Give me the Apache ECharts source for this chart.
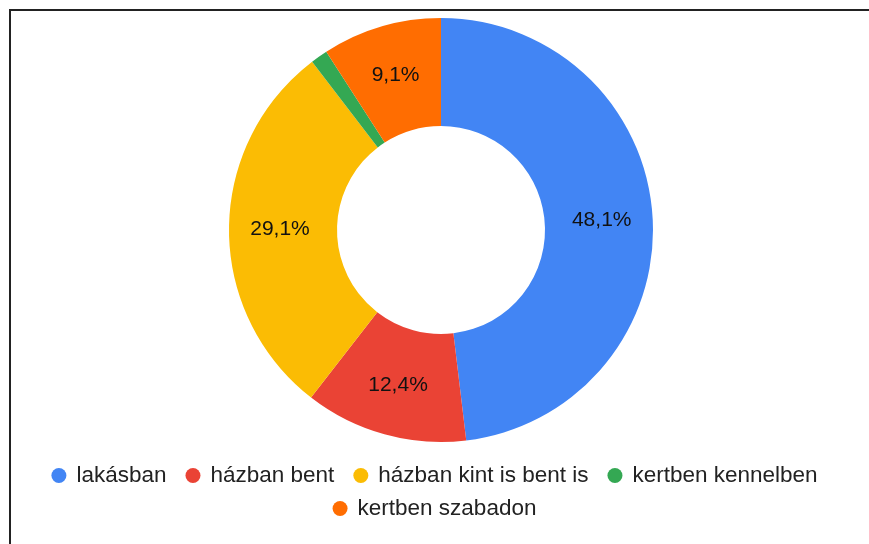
<!DOCTYPE html>
<html>
<head>
<meta charset="utf-8">
<script src="https://cdn.jsdelivr.net/npm/echarts@6/dist/echarts.min.js"></script>
<style>
  html, body { margin: 0; padding: 0; background: #fff; }
  #chart { position: absolute; left: 0; top: 0; width: 869px; height: 544px; }
  /* frame line at top and left, as in the screenshot */
  #frame {
    position: absolute; left: 9px; top: 9px; width: 870px; height: 545px;
    border-left: 2px solid #222; border-top: 2px solid #222; pointer-events: none;
  }
</style>
</head>
<body>
<div id="chart"></div>
<div id="frame"></div>
<script>
// data
const categories = ['lakásban', 'házban bent', 'házban kint is bent is', 'kertben kennelben', 'kertben szabadon']
const shares = [48.1, 12.4, 29.1, 1.3, 9.1]
const colors = ['#4285F4', '#EA4335', '#FBBC04', '#34A853', '#FF6D01']

const chart = echarts.init(document.getElementById('chart'))

const legendText = {
  fontFamily: 'Liberation Sans, Arial, sans-serif',
  fontSize: 22.5,
  color: '#222',
  padding: [0, 0, 0, 5]
}

const option = {
  animation: false,
  color: colors,
  legend: [
    {
      data: categories.slice(0, 4),
      left: 'center',
      top: 459,
      icon: 'circle',
      itemWidth: 15,
      itemHeight: 15,
      itemGap: 19,
      textStyle: legendText
    },
    {
      data: categories.slice(4),
      left: 'center',
      top: 492,
      icon: 'circle',
      itemWidth: 15,
      itemHeight: 15,
      textStyle: legendText
    }
  ],
  series: [
    {
      type: 'pie',
      center: [441, 230],
      radius: [104, 212],
      startAngle: 90,
      clockwise: true,
      avoidLabelOverlap: false,
      label: {
        show: true,
        position: 'inside',
        fontFamily: 'Liberation Sans, Arial, sans-serif',
        fontSize: 21,
        color: '#111',
        formatter: p => p.value.toFixed(1).replace('.', ',') + '%'
      },
      labelLine: { show: false },
      itemStyle: { borderWidth: 0 },
      emphasis: { disabled: true },
      data: categories.map((name, i) => ({
        name,
        value: shares[i],
        label: shares[i] < 3 ? { show: false } : undefined
      }))
    }
  ]
}

chart.setOption(option)
</script>
</body>
</html>
